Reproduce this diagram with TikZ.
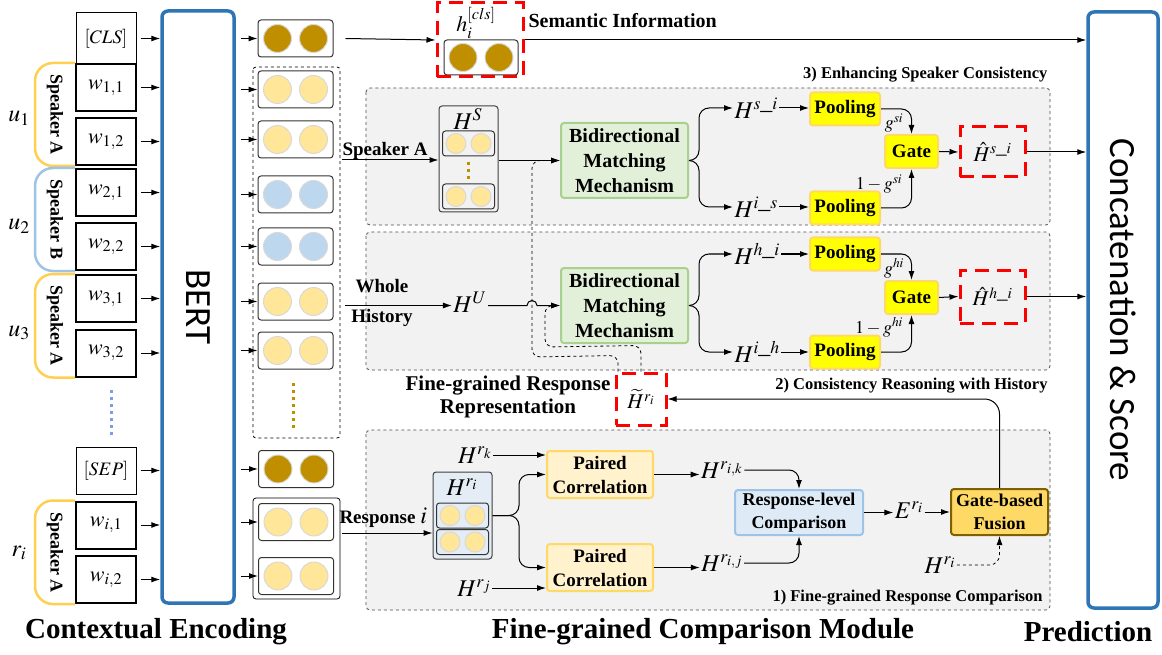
\documentclass[tikz,border=0pt]{standalone}
\usepackage{mathptmx}
\usepackage{fontspec}
\setmainfont{Liberation Serif}
\newfontfamily\calib{Carlito}
\usetikzlibrary{arrows.meta}

\definecolor{bertblue}{HTML}{2E75B6}
\definecolor{darkgold}{HTML}{BF8F00}
\definecolor{lightgold}{HTML}{FFE699}
\definecolor{lightblue}{HTML}{BDD7EE}
\definecolor{spkorange}{HTML}{FFD050}
\definecolor{spkblue}{HTML}{9DC3E6}
\definecolor{panelgray}{HTML}{F2F2F2}
\definecolor{bimmfill}{HTML}{E2F0D9}
\definecolor{bimmdraw}{HTML}{A9D18E}
\definecolor{poolfill}{HTML}{FFFF00}
\definecolor{pooldraw}{HTML}{FFD966}
\definecolor{pcfill}{HTML}{FFF2CC}
\definecolor{rlcfill}{HTML}{DEEBF7}
\definecolor{gbfdraw}{HTML}{7F6000}

\begin{document}
\begin{tikzpicture}[x=1pt,y=-1pt,>={Latex[length=9pt,width=6pt]},line width=1pt,
    tok/.style={draw,line width=2pt,minimum width=60pt,minimum height=47pt,inner sep=0pt,font=\fontsize{22}{26}\selectfont},
    spk/.style={font=\fontsize{18}{20}\selectfont\bfseries,rotate=-90},
    ulab/.style={font=\fontsize{24}{28}\selectfont},
    vec/.style={draw=black!80,rounded corners=3pt,minimum width=75pt,minimum height=37pt,
      path picture={\foreach \s in {-18,18}
        \filldraw[fill=#1,draw=black!15] ([xshift=\s pt]path picture bounding box.center) circle (14pt);}},
    svec/.style={draw=black!80,rounded corners=3pt,minimum width=52pt,minimum height=25pt,
      path picture={\foreach \s in {-12.5,12.5}
        \filldraw[fill=lightgold,draw=black!15] ([xshift=\s pt]path picture bounding box.center) circle (10pt);}},
    grp/.style={draw=black!75,rounded corners=3pt,minimum width=59pt},
    bertbox/.style={draw=bertblue,line width=3.5pt,rounded corners=6pt,minimum width=72pt,minimum height=592pt,font=\calib\fontsize{37}{40}\selectfont},
    redbox/.style={draw=red,line width=3pt,dash pattern=on 14pt off 8pt,inner sep=0pt,font=\fontsize{21}{24}\selectfont},
    panel/.style={draw=black!70,dashed,line width=0.8pt,fill=panelgray,rounded corners=4pt},
    hlab/.style={inner sep=1pt,font=\fontsize{24}{28}\selectfont},
    glab/.style={inner sep=0pt,font=\fontsize{18}{20}\selectfont},
    bimm/.style={draw=bimmdraw,fill=bimmfill,line width=2pt,rounded corners=3pt,minimum width=127pt,minimum height=75pt,
      align=center,inner sep=1pt,font=\fontsize{20}{25}\selectfont\bfseries},
    pool/.style={draw=pooldraw,fill=poolfill,line width=2pt,rounded corners=3pt,minimum width=70pt,minimum height=33pt,
      inner sep=1pt,font=\fontsize{19}{22}\selectfont\bfseries},
    gatebox/.style={pool,minimum width=53pt},
    pc/.style={draw=pooldraw,fill=pcfill,line width=2pt,rounded corners=3pt,minimum width=106pt,minimum height=47pt,
      align=center,inner sep=1pt,font=\fontsize{19}{24}\selectfont\bfseries},
    rlc/.style={pc,draw=spkblue,fill=rlcfill,minimum width=128pt,minimum height=45pt,font=\fontsize{18}{23}\selectfont\bfseries},
    gbf/.style={pc,draw=gbfdraw,fill=pooldraw,minimum width=97pt,minimum height=46pt,font=\fontsize{18}{23}\selectfont\bfseries},
    bold19/.style={inner sep=1pt,font=\fontsize{19}{23}\selectfont\bfseries},
    sect/.style={inner sep=1pt,font=\fontsize{16.5}{19}\selectfont\bfseries},
    title/.style={font=\fontsize{29}{32}\selectfont\bfseries},
    golddots/.style={draw=darkgold,line width=3pt,dash pattern=on 3pt off 4pt},
    bluedots/.style={draw=spkblue!80!blue,line width=3pt,dash pattern=on 3pt off 4pt}]
  \useasboundingbox (0,0) rectangle (1162,655);

  \node[tok,line width=1pt,minimum height=52pt,font=\fontsize{19}{22}\selectfont] (cls) at (106,38.5) {$[CLS]$};
  \node[tok] (w11) at (106,87.5)  {$w_{1,1}$};
  \node[tok] (w12) at (106,141.5) {$w_{1,2}$};
  \node[tok] (w21) at (106,192.5) {$w_{2,1}$};
  \node[tok] (w22) at (106,246.5) {$w_{2,2}$};
  \node[tok] (w31) at (106,298.5) {$w_{3,1}$};
  \node[tok] (w32) at (106,353)   {$w_{3,2}$};
  \node[tok,line width=1pt,font=\fontsize{19}{22}\selectfont] (sep) at (106,470.5) {$[SEP]$};
  \node[tok] (wi1) at (106,525)   {$w_{i,1}$};
  \node[tok] (wi2) at (106,579.5) {$w_{i,2}$};
  \draw[bluedots] (111,390) -- (111,436);

  \draw[spkorange,line width=2.5pt,rounded corners=18pt] (w11.north west) -- ++(-40,0) |- (w12.south west);
  \draw[spkblue,line width=2.5pt,rounded corners=18pt] (w21.north west) -- ++(-40,0) |- (w22.south west);
  \draw[spkorange,line width=2.5pt,rounded corners=18pt] (w31.north west) -- ++(-40,0) |- (w32.south west);
  \draw[spkorange,line width=2.5pt,rounded corners=18pt] (wi1.north west) -- ++(-40,0) |- (wi2.south west);
  \node[spk] (sp1) at (55,114.5) {Speaker A};
  \node[spk] (sp2) at (55,219.5) {Speaker B};
  \node[spk] (sp3) at (55,325.5) {Speaker A};
  \node[spk] (sp4) at (55,552.5) {Speaker A};
  \node[ulab] (u1) at (19,118) {$u_1$};
  \node[ulab] (u2) at (19,226) {$u_2$};
  \node[ulab] (u3) at (19,333) {$u_3$};
  \node[ulab] (ri) at (19,553) {$r_i$};

  \node[bertbox] (bert) at (198,307) {\rotatebox{-90}{BERT}};
  \foreach \t in {cls,w11,w12,w21,w22,w31,w32,sep,wi1,wi2}
    \draw[->] ([xshift=4pt]\t.east) -- (\t.east -| bert.west);

  \node[vec=darkgold]  (vcls) at (295.5,38.5) {};
  \node[vec=lightgold] (h1) at (295.5,89.5)  {};
  \node[vec=lightgold] (h2) at (295.5,139.5) {};
  \node[vec=lightblue] (h3) at (295.5,194.5) {};
  \node[vec=lightblue] (h4) at (295.5,246.5) {};
  \node[vec=lightgold] (h5) at (295.5,301.5) {};
  \node[vec=lightgold] (h6) at (295.5,350.5) {};
  \node[vec=darkgold]  (vsep) at (296,469) {};
  \node[vec=lightgold] (vr1) at (296,522) {};
  \node[vec=lightgold] (vr2) at (296,576) {};
  \foreach \v in {vcls,h1,h2,h3,h4,h5,h6,vsep,vr1,vr2}
    \draw[->] ([xshift=5pt]bert.east |- \v.west) -- (\v.west);
  \draw[dashed,line width=0.8pt,rounded corners=3pt] (253,67) rectangle (340,438);
  \draw[golddots] (293,383) -- (293,430);
  \draw[line width=0.8pt,rounded corners=3pt] (253,498) rectangle (340,599);

  \node[vec=darkgold,minimum width=74pt,minimum height=35pt] (vhcls) at (481,57.5) {};
  \node[redbox,minimum width=86pt,minimum height=74pt] (hcls) at (480,40) {};
  \node[hlab,font=\fontsize{22}{26}\selectfont] (hclslab) at (476,23) {$h_i^{[cls]}$};
  \node[bold19,anchor=west,font=\fontsize{20}{23}\selectfont\bfseries] (sem) at (527,21) {Semantic Information};
  \draw[->] ([xshift=12pt]vcls.east) -- (hcls.west);
  \node[draw=bertblue,line width=3.5pt,rounded corners=6pt,minimum width=70pt,minimum height=596pt,
    font=\calib\fontsize{37}{40}\selectfont] (concat) at (1123,310) {\rotatebox{-90}{Concatenation \& Score}};
  \draw[->] (hcls.east) -- (hcls.east -| concat.west);

  \draw[panel] (366,88) rectangle (1050,225);
  \node[sect,anchor=east] (t3) at (1049,75) {3) Enhancing Speaker Consistency};
  \draw[panel] (366,232) rectangle (1050,370);
  \node[sect,anchor=east] (t2) at (1049,386) {2) Consistency Reasoning with History};
  \draw[panel] (366,430) rectangle (1050,610);
  \node[sect,anchor=east] (t1) at (1044,598) {1) Fine-grained Response Comparison};

  \node[grp,minimum height=106pt] (hs) at (468.5,159) {};
  \node[hlab] (hslab) at (468,119) {$H^{S}$};
  \node[svec] (hs1) at (468.5,143.5) {};
  \node[svec] (hs2) at (468.5,196.5) {};
  \draw[golddots] (468,162) -- (468,181);
  \node[bold19] (spka) at (385,151) {Speaker A};
  \coordinate (spkin) at (342,160);
  \draw[->] (spkin) -- (spkin -| hs.west);
  \node[bimm] (bm1) at (624.5,160.5) {Bidirectional\\Matching\\Mechanism};
  \draw[->] (hs.east |- bm1.west) -- (bm1.west);
  \node[hlab,anchor=west] (hsi) at (733,108) {$H^{s\_i}$};
  \node[hlab,anchor=west] (his) at (733,207) {$H^{i\_s}$};
  \node[pool] (p1) at (845,109) {Pooling};
  \node[pool] (p2) at (845,208) {Pooling};
  \node[gatebox] (g1) at (911.5,151.5) {Gate};
  \node[redbox,minimum width=65pt,minimum height=50pt] (hh1) at (992.5,152) {$\hat{H}^{s\_i}$};
  \draw[->,rounded corners=10pt] (bm1.east) -- (699,160.5) |- (hsi.west);
  \draw[->,rounded corners=10pt] (bm1.east) -- (699,160.5) |- (his.west);
  \draw[->] (hsi.east) -- (hsi.east -| p1.west);
  \draw[->] (his.east) -- (his.east -| p2.west);
  \draw[->,rounded corners=10pt] (p1.east) -| (g1.north);
  \draw[->,rounded corners=10pt] (p2.east) -| (g1.south);
  \node[glab] (gsi) at (894,123) {$g^{si}$};
  \node[glab] (gsi2) at (879,184) {$1-g^{si}$};
  \draw[->] (g1.east) -- (hh1.west);
  \draw[->] (hh1.east) -- (hh1.east -| concat.west);

  \node[bold19,align=center,font=\fontsize{19}{30}\selectfont\bfseries] (whole) at (382,303) {Whole\\History};
  \coordinate (histin) at (345,305.5);
  \node[hlab] (hu) at (470,302) {$H^{U}$};
  \draw[->] (histin) -- (histin -| hu.west);
  \node[bimm] (bm2) at (624.5,305.5) {Bidirectional\\Matching\\Mechanism};
  \coordinate (hop) at (527,305.5);
  \draw[->] (hu.east |- bm2.west) -- (hop) arc[start angle=180,end angle=0,radius=5pt] -- (bm2.west);
  \node[hlab,anchor=west] (hhi) at (733,254) {$H^{h\_i}$};
  \node[hlab,anchor=west] (hih) at (733,352) {$H^{i\_h}$};
  \node[pool] (p3) at (845,254) {Pooling};
  \node[pool] (p4) at (845,352) {Pooling};
  \node[gatebox] (g2) at (911.5,297.5) {Gate};
  \node[redbox,minimum width=65pt,minimum height=53pt] (hh2) at (992.5,296.5) {$\hat{H}^{h\_i}$};
  \draw[->,rounded corners=10pt] (bm2.east) -- (699,305.5) |- (hhi.west);
  \draw[->,rounded corners=10pt] (bm2.east) -- (699,305.5) |- (hih.west);
  \draw[->] (hhi.east) -- (hhi.east -| p3.west);
  \draw[->] (hih.east) -- (hih.east -| p4.west);
  \draw[->,rounded corners=10pt] (p3.east) -| (g2.north);
  \draw[->,rounded corners=10pt] (p4.east) -| (g2.south);
  \node[glab] (ghi) at (894,268) {$g^{hi}$};
  \node[glab] (ghi2) at (879,327) {$1-g^{hi}$};
  \draw[->] (g2.east) -- (hh2.west);
  \draw[->] (hh2.east) -- (hh2.east -| concat.west);

  \node[redbox,minimum width=50pt,minimum height=52pt] (ht) at (641,399) {$\widetilde{H}^{r_i}$};
  \node[bold19,align=center,font=\fontsize{21}{23}\selectfont\bfseries] (fgr) at (508,397) {Fine-grained Response\\Representation};
  \draw[->,dashed,line width=0.8pt,rounded corners=8pt] ([xshift=-23pt]ht.north) -- ++(0,-16) -- (532,357) |- (bm1.west);
  \draw[->,dashed,line width=0.8pt,rounded corners=8pt] (ht.north) -- ++(0,-26) -- (545,347) |- (bm2.west);

  \node[bold19,anchor=west] (resp) at (338,518) {Response {\fontsize{24}{28}\selectfont$i$}};
  \coordinate (respin) at (342,533);
  \node[grp,fill=rlcfill!70!panelgray,minimum height=87pt] (hri) at (462.5,515.5) {};
  \node[hlab] (hrilab) at (462,487) {$H^{r_i}$};
  \node[svec] (hri1) at (462.5,515.5) {};
  \node[svec] (hri2) at (462.5,542) {};
  \draw[->] (respin) -- (respin -| hri.west);
  \node[pc] (pc1) at (600,474.5) {Paired\\Correlation};
  \node[pc] (pc2) at (600,567.5) {Paired\\Correlation};
  \draw[->,rounded corners=10pt] (hri.east) -- (519,515.5) |- (pc1.west);
  \draw[->,rounded corners=10pt] (hri.east) -- (519,515.5) |- (pc2.west);
  \node[hlab] (hrk) at (475,455) {$H^{r_k}$};
  \node[hlab] (hrj) at (474,588) {$H^{r_j}$};
  \draw[->] (hrk.east) -- (hrk.east -| pc1.west);
  \draw[->] (hrj.east) -- (hrj.east -| pc2.west);
  \node[hlab] (hrik) at (722,470) {$H^{r_{i,k}}$};
  \node[hlab] (hrij) at (722,563) {$H^{r_{i,j}}$};
  \draw[->] (pc1.east) -- (pc1.east -| hrik.west);
  \draw[->] (pc2.east) -- (pc2.east -| hrij.west);
  \node[rlc] (rlc) at (799,512.5) {Response-level\\Comparison};
  \draw[->,rounded corners=10pt] (hrik.east) -| (rlc.north);
  \draw[->,rounded corners=10pt] (hrij.east) -| (rlc.south);
  \node[hlab] (eri) at (909,510) {$E^{r_i}$};
  \node[gbf] (gbf) at (999.5,512) {Gate-based\\Fusion};
  \draw[->] (rlc.east) -- (rlc.east -| eri.west);
  \draw[->] (eri.east |- gbf.west) -- (gbf.west);
  \node[hlab] (hri3) at (940,565) {$H^{r_i}$};
  \draw[->,dashed,line width=0.8pt,rounded corners=10pt] (hri3.east) -| (gbf.south);
  \draw[->,rounded corners=15pt] (gbf.north) |- (ht.east);

  \node[title] (tce) at (156,632) {Contextual Encoding};
  \node[title] (tfc) at (703,632) {Fine-grained Comparison Module};
  \node[title] (tpr) at (1088,632) {Prediction};
\end{tikzpicture}
\end{document}
